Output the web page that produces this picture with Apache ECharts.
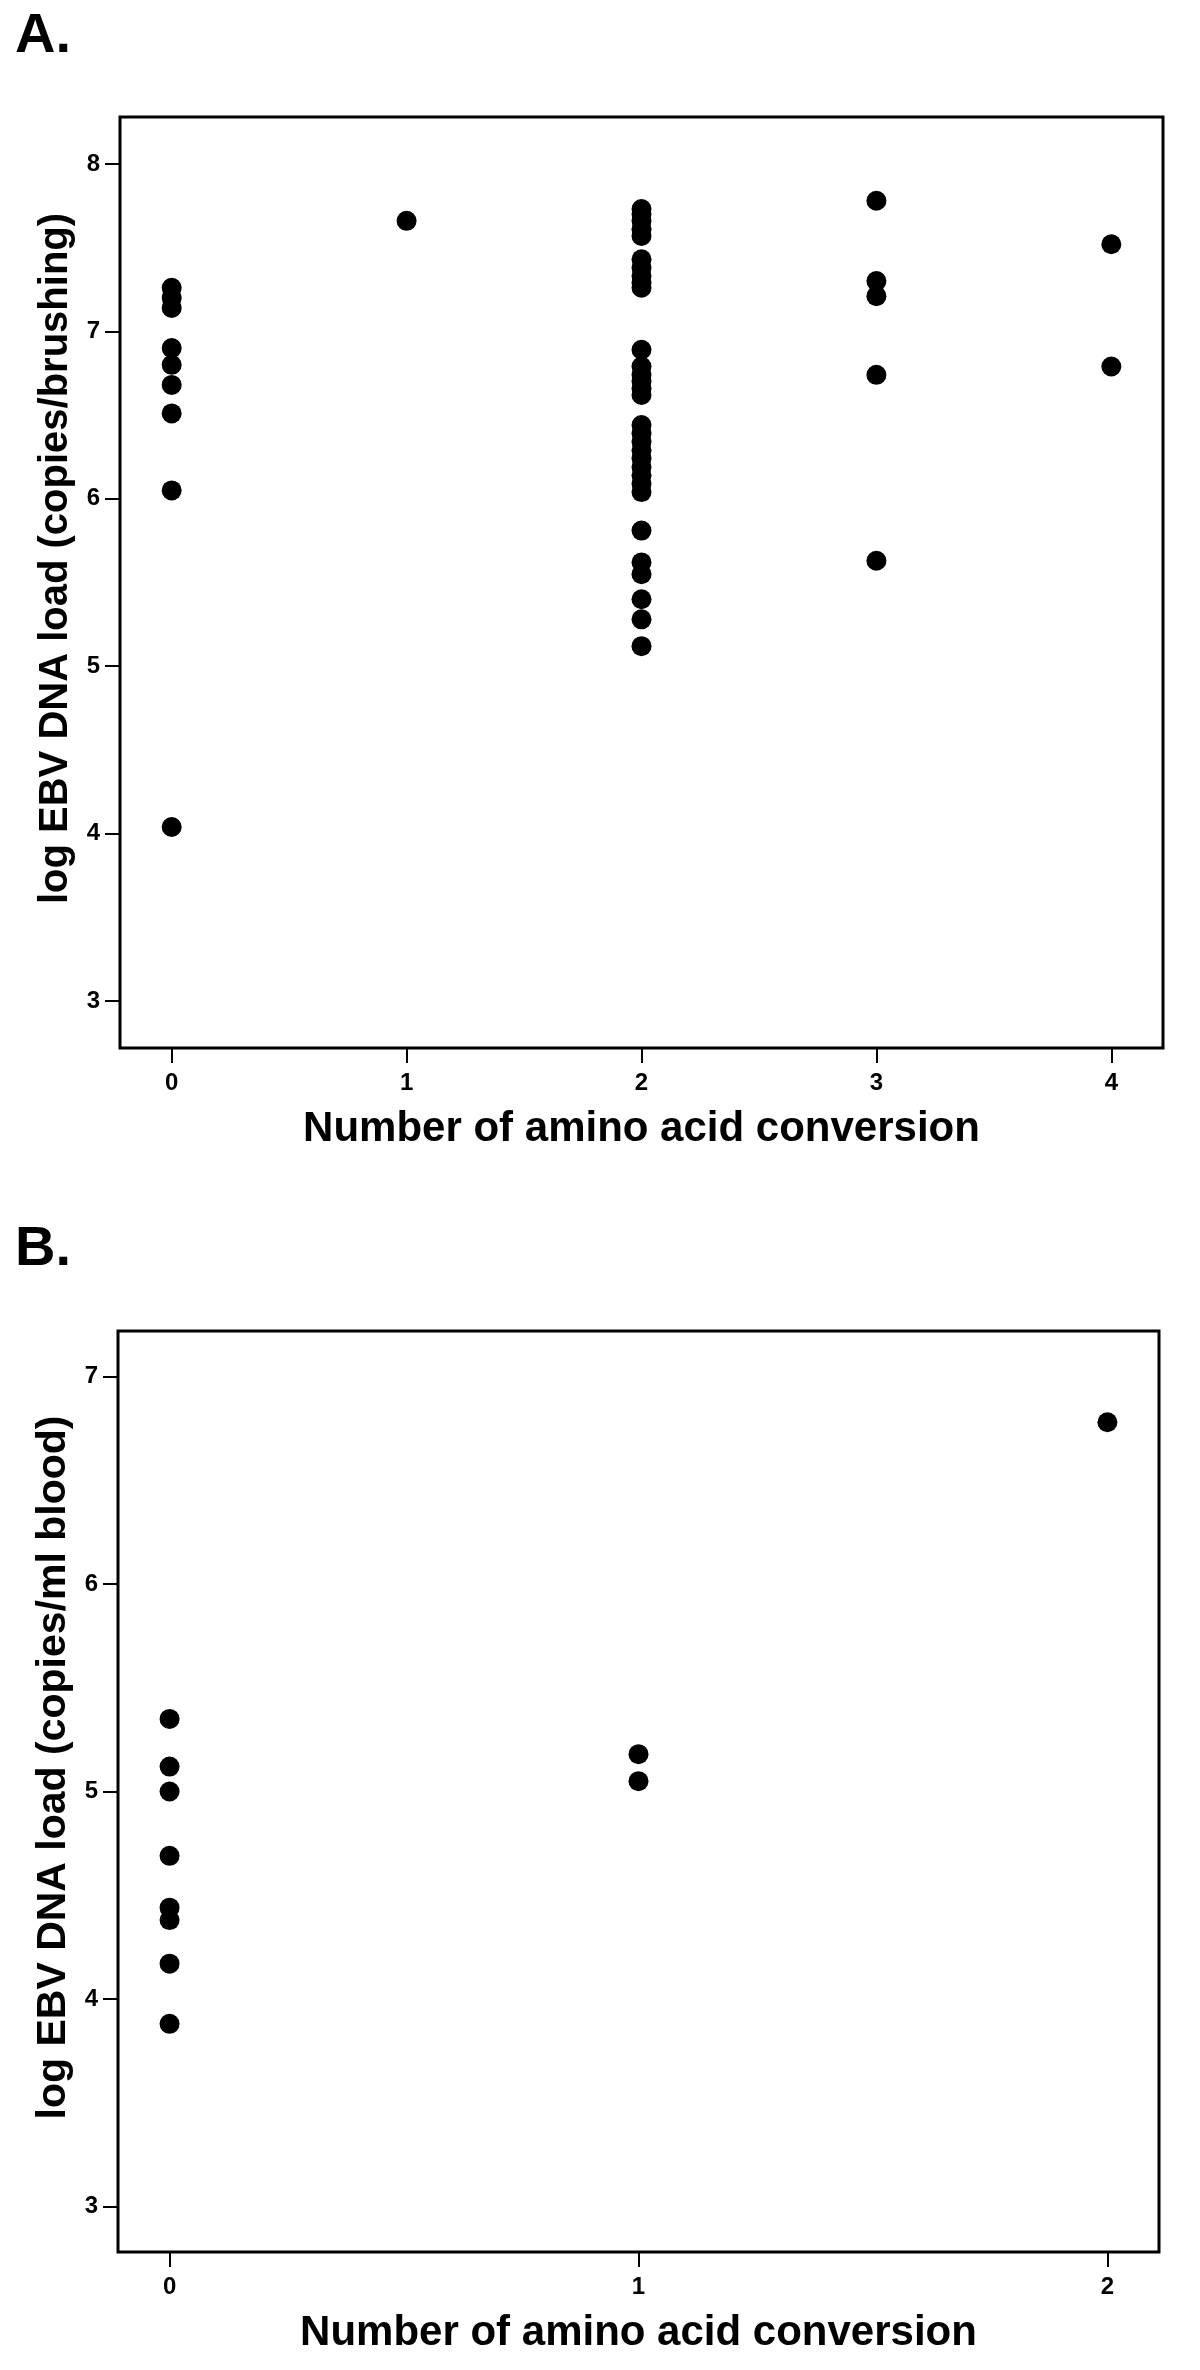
<!DOCTYPE html>
<html>
<head>
<meta charset="utf-8">
<title>EBV DNA load vs amino acid conversion</title>
<script src="https://cdn.jsdelivr.net/npm/echarts@6/dist/echarts.min.js"></script>
<style>
  html, body { margin: 0; padding: 0; background: #fff; }
  #chart { width: 1200px; height: 2370px; }
</style>
</head>
<body>
<div id="chart"></div>
<script>
// panel A: log EBV DNA load (copies/brushing), grouped by number of conversions
const brushZero = [7.26, 7.20, 7.14, 6.90, 6.80, 6.68, 6.51, 6.05, 4.04];
const brushOne = [7.66];
const brushTwo = [7.73, 7.70, 7.66, 7.61, 7.57, 7.43, 7.38, 7.33, 7.29, 7.26,
  6.89, 6.79, 6.74, 6.70, 6.66, 6.62, 6.44, 6.39, 6.34, 6.29, 6.24, 6.19, 6.14,
  6.09, 6.04, 5.81, 5.62, 5.55, 5.40, 5.28, 5.12];
const brushThree = [7.78, 7.30, 7.21, 6.74, 5.63];
const brushFour = [7.52, 6.79];

// panel B: log EBV DNA load (copies/ml blood)
const bloodZero = [5.35, 5.12, 5.00, 4.69, 4.44, 4.38, 4.17, 3.88];
const bloodOne = [5.18, 5.05];
const bloodTwo = [6.78];

const ticksAx = [0, 1, 2, 3, 4];
const ticksAy = [3, 4, 5, 6, 7, 8];
const ticksBx = [0, 1, 2];
const ticksBy = [3, 4, 5, 6, 7];

const xTitle = 'Number of amino acid conversion';
const yTitleA = 'log EBV DNA load (copies/brushing)';
const yTitleB = 'log EBV DNA load (copies/ml blood)';

const FONT = '"Liberation Sans", Arial, sans-serif';

// turn [[values at x=0], [values at x=1], ...] into [x, y] pairs
function toPoints(groups) {
  let pts = [];
  groups.forEach((vals, x) => {
    vals.forEach(v => pts.push([x, v]));
  });
  return pts;
}

function xAxisOf(gridIndex, min, max, ticks) {
  return {
    type: 'value',
    gridIndex: gridIndex,
    min: min,
    max: max,
    name: xTitle,
    nameLocation: 'middle',
    nameGap: 60,
    nameTextStyle: { fontFamily: FONT, fontWeight: 'bold', fontSize: 42, color: '#000' },
    axisLine: { show: false, onZero: false },
    splitLine: { show: false },
    axisTick: { show: true, length: 15, customValues: ticks, lineStyle: { color: '#000', width: 2 } },
    axisLabel: { customValues: ticks, margin: 23, fontFamily: FONT, fontWeight: 'bold', fontSize: 24, color: '#000' }
  };
}

function yAxisOf(gridIndex, min, max, ticks, title, titleSize) {
  return {
    type: 'value',
    gridIndex: gridIndex,
    min: min,
    max: max,
    name: title,
    nameLocation: 'middle',
    nameRotate: 90,
    nameGap: 36,
    // SPSS puts the title a little above the middle of the axis
    nameTextStyle: { fontFamily: FONT, fontWeight: 'bold', fontSize: titleSize, color: '#000', padding: [0, 0, 0, 48] },
    axisLine: { show: false, onZero: false },
    splitLine: { show: false },
    axisTick: { show: true, length: 15, customValues: ticks, lineStyle: { color: '#000', width: 2 } },
    axisLabel: { customValues: ticks, margin: 20, fontFamily: FONT, fontWeight: 'bold', fontSize: 24, color: '#000' }
  };
}

const chart = echarts.init(document.getElementById('chart'), null, { renderer: 'canvas' });

chart.setOption({
  backgroundColor: '#fff',
  animation: false,
  graphic: [
    { type: 'text', left: 15, top: 9, style: { text: 'A.', font: 'bold 56px ' + FONT, fill: '#000' } },
    { type: 'text', left: 15, top: 1222, style: { text: 'B.', font: 'bold 56px ' + FONT, fill: '#000' } }
  ],
  grid: [
    { left: 120, top: 117, right: 37, bottom: 1322, show: true, borderColor: '#000', borderWidth: 3, backgroundColor: '#fff' },
    { left: 118, top: 1331, right: 41, bottom: 118, show: true, borderColor: '#000', borderWidth: 3, backgroundColor: '#fff' }
  ],
  xAxis: [
    xAxisOf(0, -0.22, 4.22, ticksAx),
    xAxisOf(1, -0.11, 2.11, ticksBx)
  ],
  yAxis: [
    yAxisOf(0, 2.72, 8.28, ticksAy, yTitleA, 40),
    yAxisOf(1, 2.78, 7.22, ticksBy, yTitleB, 41)
  ],
  series: [
    {
      type: 'scatter',
      xAxisIndex: 0,
      yAxisIndex: 0,
      symbol: 'circle',
      symbolSize: 20,
      itemStyle: { color: '#000', opacity: 1 },
      data: toPoints([brushZero, brushOne, brushTwo, brushThree, brushFour])
    },
    {
      type: 'scatter',
      xAxisIndex: 1,
      yAxisIndex: 1,
      symbol: 'circle',
      symbolSize: 20,
      itemStyle: { color: '#000', opacity: 1 },
      data: toPoints([bloodZero, bloodOne, bloodTwo])
    }
  ]
});
</script>
</body>
</html>
